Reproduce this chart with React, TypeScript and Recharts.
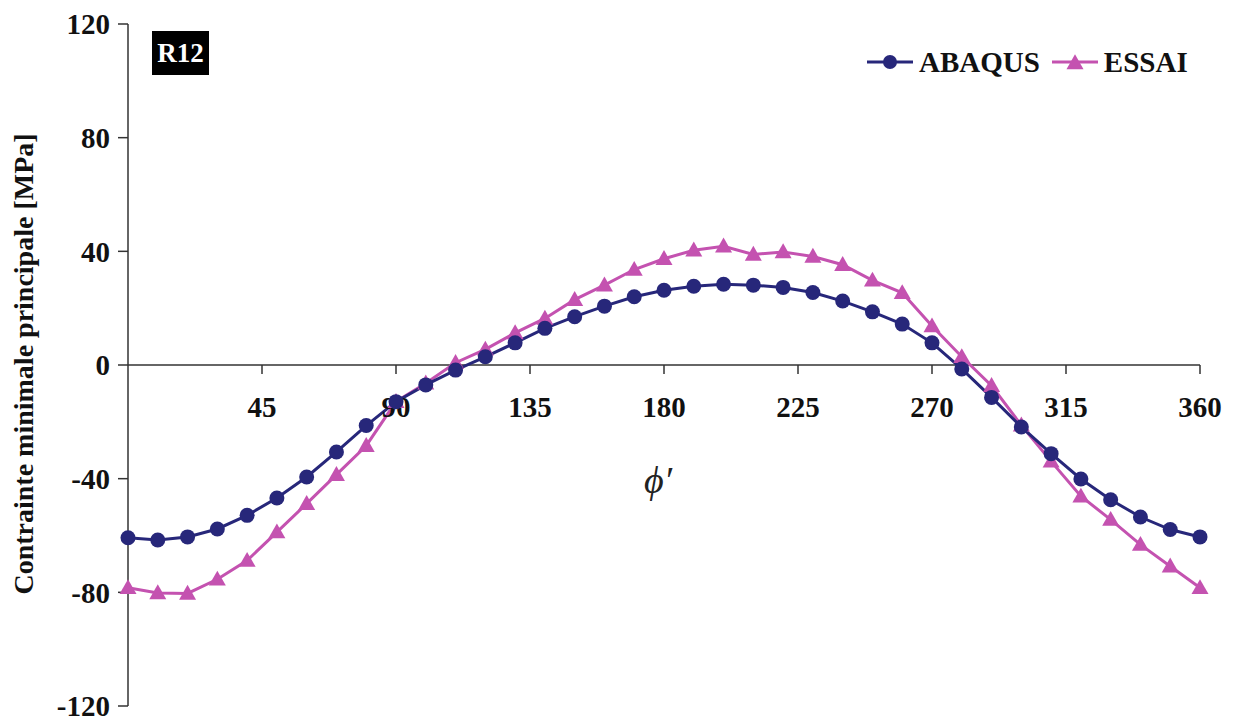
import { Line, LineChart, ReferenceDot, ReferenceLine, YAxis, XAxis } from "recharts";

const ANGLES = [
  0, 10, 20, 30, 40, 50, 60, 70, 80, 90, 100, 110, 120, 130, 140, 150, 160, 170, 180,
  190, 200, 210, 220, 230, 240, 250, 260, 270, 280, 290, 300, 310, 320, 330, 340, 350, 360,
];
const ABAQUS = [
  -60.8, -61.6, -60.5, -57.7, -52.9, -46.8, -39.4, -30.6, -21.3, -12.9, -7.0, -1.8, 2.9,
  7.8, 12.9, 17.0, 20.7, 24.0, 26.3, 27.7, 28.4, 28.1, 27.3, 25.5, 22.5, 18.7, 14.4, 7.8,
  -1.4, -11.4, -21.8, -31.2, -40.1, -47.4, -53.5, -57.9, -60.5,
];
const ESSAI = [
  -78.4, -80.2, -80.4, -75.4, -68.8, -58.8, -48.8, -38.6, -28.4, -12.9, -6.4, 0.8, 5.5,
  11.3, 16.4, 23.0, 28.1, 33.6, 37.4, 40.4, 41.8, 38.9, 39.8, 38.2, 35.3, 29.8, 25.4, 13.7,
  2.9, -7.3, -21.2, -33.9, -46.2, -54.4, -63.2, -70.8, -78.4,
];
const X_TICKS = [45, 90, 135, 180, 225, 270, 315, 360];
const Y_TICKS = [-120, -80, -40, 0, 40, 80, 120];
const SERIES = [
  { key: "abaqus", name: "ABAQUS", shape: "circle" },
  { key: "essai", name: "ESSAI", shape: "triangle" },
];

const NAVY = "#27277a";
const MAGENTA = "#c452b0";
const FONT = "'Liberation Serif', 'DejaVu Serif', serif";
const COLORS: Record<string, string> = { abaqus: NAVY, essai: MAGENTA };

const data = ANGLES.map((a, i) => ({ angle: a, abaqus: ABAQUS[i], essai: ESSAI[i] }));

function Triangle({ cx, cy, fill, size = 8 }: { cx?: number; cy?: number; fill: string; size?: number }) {
  if (cx == null || cy == null) return null;
  const h = size * 1.75;
  return (
    <polygon
      points={`${cx},${cy - h * 0.58} ${cx - size},${cy + h * 0.42} ${cx + size},${cy + h * 0.42}`}
      fill={fill}
    />
  );
}

// legend drawn as an overlay so it doesn't push the plot area down
function LegendBox() {
  return (
    <div
      style={{
        position: "absolute",
        left: 867,
        top: 44,
        display: "flex",
        alignItems: "center",
        fontFamily: FONT,
        fontWeight: 700,
        fontSize: 29,
        lineHeight: "36px",
      }}
    >
      {SERIES.map((s) => (
        <div key={s.key} style={{ display: "flex", alignItems: "center", marginRight: 12 }}>
          <svg width={46} height={22} style={{ marginRight: 6 }}>
            <line x1={0} y1={11} x2={46} y2={11} stroke={COLORS[s.key]} strokeWidth={3} />
            {s.shape === "circle" ? (
              <circle cx={23} cy={11} r={7} fill={COLORS[s.key]} />
            ) : (
              <Triangle cx={23} cy={12} fill={COLORS[s.key]} size={8.5} />
            )}
          </svg>
          <span style={{ color: "#111" }}>{s.name}</span>
        </div>
      ))}
    </div>
  );
}

function TickLabel(props: any) {
  const { viewBox, value } = props;
  if (!viewBox) return null;
  return (
    <text
      x={viewBox.x}
      y={viewBox.y + 42}
      textAnchor="middle"
      dominantBaseline="central"
      fontFamily={FONT}
      fontWeight={700}
      fontSize={29}
      fill="#111"
    >
      {value}
    </text>
  );
}

export default function App() {
  return (
    <div style={{ position: "absolute", left: 0, top: 0, width: 1234, height: 722, background: "#fff" }}>
      <LineChart width={1234} height={722} data={data} margin={{ top: 24, right: 34, bottom: 16, left: 0 }}>
        <XAxis dataKey="angle" type="number" domain={[0, 360]} hide />
        <YAxis
          type="number"
          domain={[-120, 120]}
          ticks={Y_TICKS}
          interval={0}
          width={128}
          axisLine={{ stroke: "#333", strokeWidth: 1.5 }}
          tickLine={{ stroke: "#333", strokeWidth: 1.5 }}
          tickSize={10}
          tickMargin={8}
          tick={{ fill: "#111", fontFamily: FONT, fontWeight: 700, fontSize: 29 }}
        />
        <ReferenceLine y={0} stroke="#333" strokeWidth={1.5} />
        {X_TICKS.map((t) => (
          <ReferenceLine
            key={`tl-${t}`}
            segment={[
              { x: t, y: 0 },
              { x: t, y: -3.2 },
            ]}
            stroke="#333"
            strokeWidth={1.5}
          />
        ))}
        {X_TICKS.map((t) => (
          <ReferenceDot
            key={`lb-${t}`}
            x={t}
            y={0}
            r={0}
            fill="none"
            stroke="none"
            label={<TickLabel value={t} />}
          />
        ))}
        <Line
          type="linear"
          dataKey="essai"
          name="ESSAI"
          stroke={MAGENTA}
          strokeWidth={3}
          isAnimationActive={false}
          dot={(p: any) => <Triangle key={`e-${p.index}`} cx={p.cx} cy={p.cy} fill={MAGENTA} size={8.5} />}
        />
        <Line
          type="linear"
          dataKey="abaqus"
          name="ABAQUS"
          stroke={NAVY}
          strokeWidth={3}
          isAnimationActive={false}
          dot={{ r: 7.5, fill: NAVY, stroke: NAVY, strokeWidth: 0 }}
        />
      </LineChart>
      <LegendBox />
      <div
        style={{
          position: "absolute",
          left: 152,
          top: 31,
          width: 57,
          height: 44,
          background: "#000",
          color: "#fff",
          fontFamily: FONT,
          fontWeight: 700,
          fontSize: 27,
          display: "flex",
          alignItems: "center",
          justifyContent: "center",
        }}
      >
        R12
      </div>
      <div
        style={{
          position: "absolute",
          left: 644,
          top: 458,
          fontFamily: FONT,
          fontStyle: "italic",
          fontSize: 38,
          lineHeight: "44px",
          color: "#222",
        }}
      >
        ϕ′
      </div>
      <div
        style={{
          position: "absolute",
          left: 24,
          top: 364,
          transform: "translate(-50%, -50%) rotate(-90deg)",
          whiteSpace: "nowrap",
          fontFamily: FONT,
          fontWeight: 700,
          fontSize: 28,
          color: "#111",
        }}
      >
        Contrainte minimale principale [MPa]
      </div>
    </div>
  );
}
